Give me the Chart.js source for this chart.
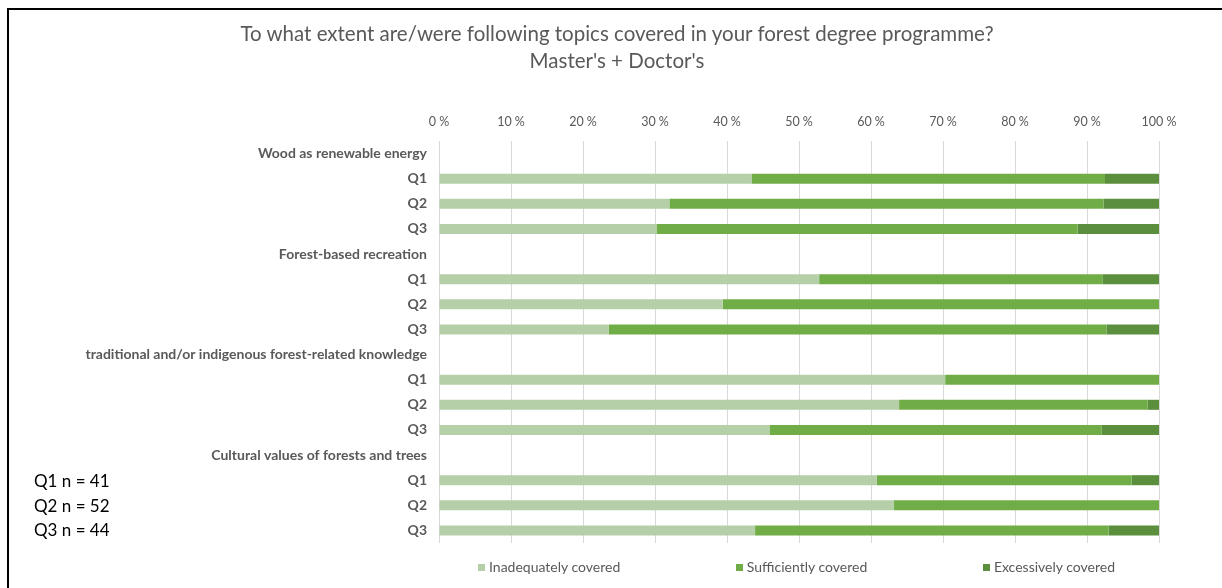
<!DOCTYPE html>
<html>
<head>
<meta charset="utf-8">
<script src="https://cdn.jsdelivr.net/npm/chart.js@4.4.1/dist/chart.umd.min.js"></script>
<style>
    body { margin: 0; background: #fff; }
    #wrap { position: relative; width: 1222px; height: 588px; overflow: hidden; }
    #frame {
        position: absolute; left: 7px; top: 8px; right: -10px; bottom: -10px;
        border-top: 2px solid #000; border-left: 2px solid #000;
        pointer-events: none;
    }
    canvas { position: absolute; left: 0; top: 0; }
    #title {
        position: absolute; top: 20px; left: 17px; width: 1200px;
        text-align: center; font: 20.5px/27px Lato, sans-serif; color: #595959;
    }
    .n { position: absolute; left: 34px; font: 17px Lato, sans-serif; color: #000; }
    #legend {
        position: absolute; top: 558px; left: 478px; width: 637px;
        display: flex; justify-content: space-between;
        font: 14px Lato, sans-serif; color: #595959;
    }
    #legend span.box { display: inline-block; width: 7px; height: 7px; margin-right: 4px; vertical-align: 1px; }
</style>
</head>
<body>
<div id="wrap">
    <canvas id="chart" width="1222" height="588"></canvas>
    <div id="frame"></div>
    <div id="title"></div>
    <div class="n" style="top: 470px;">Q1 n = 41</div>
    <div class="n" style="top: 495px;">Q2 n = 52</div>
    <div class="n" style="top: 519px;">Q3 n = 44</div>
    <div id="legend"></div>
</div>
<script>
const titleLines = [
    "To what extent are/were following topics covered in your forest degree programme?",
    "Master's + Doctor's",
];
const topics = [
    "Wood as renewable energy",
    "Forest-based recreation",
    "traditional and/or indigenous forest-related knowledge",
    "Cultural values of forests and trees",
];
const questions = ["Q1", "Q2", "Q3"];
const seriesNames = ["Inadequately covered", "Sufficiently covered", "Excessively covered"];
const seriesColors = ["#b5cfa9", "#70ad47", "#5b8f3d"];

// percent per topic, Q1..Q3 in order
const inadequate = [43.4, 32.0, 30.2, 52.8, 39.4, 23.6, 70.3, 63.9, 45.9, 60.8, 63.2, 43.9];
const sufficient = [49.1, 60.3, 58.5, 39.4, 60.6, 69.1, 29.7, 34.5, 46.1, 35.4, 36.8, 49.1];
const excessive = [7.5, 7.7, 11.3, 7.8, 0, 7.3, 0, 1.6, 8.0, 3.8, 0, 7.0];

const xTicks = [0, 10, 20, 30, 40, 50, 60, 70, 80, 90, 100];

document.getElementById("title").innerHTML = titleLines.join("<br>");

// one header row per topic, then its Q rows
const labels = [];
const rows = [[], [], []];
topics.forEach((t, ti) => {
    labels.push(t);
    rows.forEach((r) => r.push(null));
    questions.forEach((q, qi) => {
        labels.push(q);
        const k = ti * questions.length + qi;
        rows[0].push(inadequate[k]);
        rows[1].push(sufficient[k]);
        rows[2].push(excessive[k]);
    });
});

const datasets = seriesNames.map((name, i) => ({
    label: name,
    data: rows[i],
    backgroundColor: seriesColors[i],
    borderWidth: 0,
    barPercentage: 0.4,
    categoryPercentage: 1.0,
}));

const grey = "#595959";

new Chart(document.getElementById("chart").getContext("2d"), {
    type: "bar",
    data: { labels, datasets },
    options: {
        indexAxis: "y",
        responsive: false,
        animation: false,
        layout: { padding: { left: 0, right: 63, top: 102, bottom: 45 } },
        plugins: {
            legend: { display: false },
            tooltip: { enabled: false },
        },
        scales: {
            x: {
                position: "top",
                stacked: true,
                min: 0,
                max: 100,
                afterBuildTicks: (s) => {
                    s.ticks = xTicks.map((v) => ({ value: v }));
                },
                ticks: {
                    color: grey,
                    font: { family: "Lato", size: 12.5 },
                    padding: 12,
                    callback: (v) => v + " %",
                },
                grid: { color: "#d9d9d9", drawTicks: false },
                border: { display: false },
            },
            y: {
                stacked: true,
                afterFit: (s) => {
                    s.width = 439;
                },
                ticks: {
                    color: grey,
                    font: { family: "Lato", size: 14, weight: "bold" },
                    padding: 12,
                    autoSkip: false,
                },
                grid: { display: false, drawTicks: false },
                border: { display: false },
            },
        },
    },
});

const legend = document.getElementById("legend");
seriesNames.forEach((name, i) => {
    const item = document.createElement("div");
    item.innerHTML = `<span class="box" style="background:${seriesColors[i]}"></span>${name}`;
    legend.appendChild(item);
});
</script>
</body>
</html>
